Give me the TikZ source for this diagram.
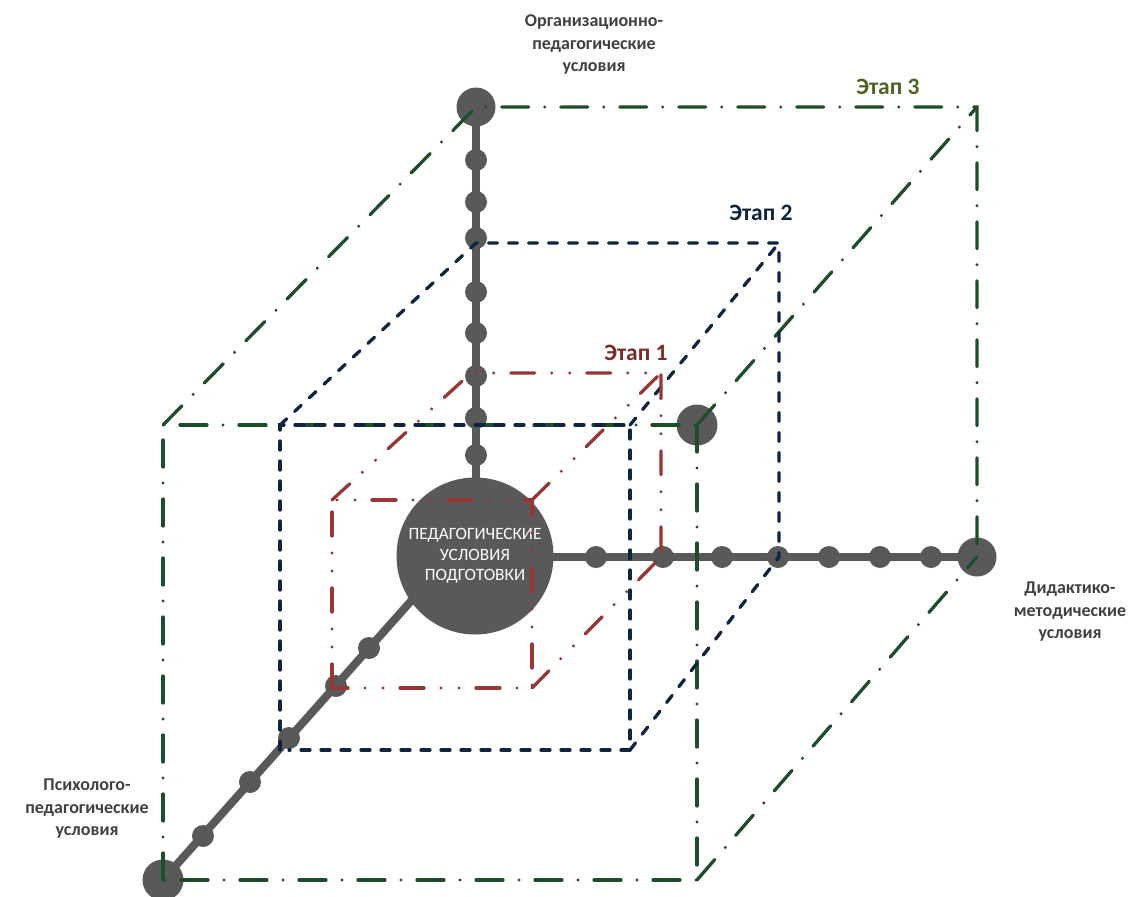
\documentclass[tikz,border=0pt]{standalone}
\usepackage{fontspec}
\setmainfont{Carlito}
\definecolor{axgray}{HTML}{595959}
\definecolor{lblgray}{HTML}{404040}
\definecolor{stgreen}{HTML}{1E4D2B}
\definecolor{stgreentxt}{HTML}{4F6228}
\definecolor{stblue}{HTML}{0F243E}
\definecolor{stred}{HTML}{953735}
\definecolor{stredtxt}{HTML}{772C2A}
\begin{document}
\begin{tikzpicture}[x=1pt,y=-1pt,
  axis/.style={draw=axgray,line width=8pt},
  bigdot/.style={circle,fill=axgray,minimum size=39pt,inner sep=0pt},
  smalldot/.style={circle,fill=axgray,minimum size=22pt,inner sep=0pt},
  hub/.style={circle,fill=axgray,minimum size=157pt,inner sep=0pt,text=white,align=center,font=\fontsize{17.3}{20.5}\selectfont},
  lbl/.style={align=center,text=lblgray,font=\fontsize{18}{22.5}\selectfont\bfseries},
  stage/.style={font=\fontsize{23.5}{26}\selectfont\bfseries},
  greenline/.style={draw=stgreen,line width=3.3pt,line cap=round,dash pattern=on 27pt off 16pt on 0pt off 16pt},
  blueline/.style={draw=stblue,line width=3.3pt,line cap=round,dash pattern=on 9pt off 11pt},
  redline/.style={draw=stred,line width=3.3pt,line cap=round,dash pattern=on 24pt off 17pt on 0pt off 18pt on 0pt off 17pt}
]
\useasboundingbox (0,0) rectangle (1136,897);

% axes endpoints
\node[bigdot] (T) at (476,107) {};
\node[bigdot] (R) at (977,557) {};
\node[bigdot,minimum size=41pt] (L) at (163,880) {};
\node[bigdot,minimum size=41pt] (F) at (697,425) {};
\coordinate (Caim) at (451,556);

% axis lines
\draw[axis] (T.center) -- (476,556);
\draw[axis] (476,557) -- (R.center);
\draw[axis] (L.center) -- (Caim);

% vertical small dots
\foreach \y [count=\i] in {160,202,238,292,333,376,418,455}
  \node[smalldot] (v\i) at (476,\y) {};
% horizontal small dots
\foreach \x [count=\i] in {596,663,722,778,829,880,931}
  \node[smalldot] (h\i) at (\x,557) {};
% diagonal small dots
\foreach \x/\y [count=\i] in {369/648,336/686,289/738,250/782,203/836}
  \node[smalldot] (d\i) at (\x,\y) {};

% hub
\node[hub] (C) at (475,556) {ПЕДАГОГИЧЕСКИЕ\\УСЛОВИЯ\\ПОДГОТОВКИ};

% green cube corners
\coordinate (g1) at (163,425);
\coordinate (g2) at (697,425);
\coordinate (g3) at (697,880);
\coordinate (g4) at (163,880);
\coordinate (g5) at (476,107);
\coordinate (g6) at (977,107);
\coordinate (g7) at (977,557);
% blue cube corners
\coordinate (b1) at (280,425);
\coordinate (b2) at (630,425);
\coordinate (b3) at (630,750);
\coordinate (b4) at (289,750);
\coordinate (b5) at (476,243);
\coordinate (b6) at (779,243);
\coordinate (b7) at (779,557);
\coordinate (b4a) at (280,750);
% red cube corners
\coordinate (r1) at (332,500);
\coordinate (r2) at (532,500);
\coordinate (r3) at (532,688);
\coordinate (r4) at (332,688);
\coordinate (r5) at (471,373);
\coordinate (r6) at (661,373);
\coordinate (r7) at (661,557);

% green cube
\draw[greenline] (g4) -- (g1) -- (g2);
\draw[greenline] (g2) -- (g3) -- (g4);
\draw[greenline] (g1) -- (g5) -- (g6) -- (g7);
\draw[greenline] (g2) -- (g6);
\draw[greenline] (g3) -- (g7);

% blue cube
\draw[blueline] (b4a) -- (b1) -- (b2) -- (b3) -- (b4);
\draw[blueline] (b1) -- (b5) -- (b6) -- (b7);
\draw[blueline] (b2) -- (b6);
\draw[blueline] (b3) -- (b7);

% red cube
\draw[redline] (r4) -- (r1) -- (r2) -- (r3) -- (r4);
\draw[redline] (r1) -- (r5) -- (r6) -- (r7);
\draw[redline] (r2) -- (r6);
\draw[redline] (r3) -- (r7);

% labels
\node[lbl] (tOrg) at (594,45) {Организационно-\\педагогические\\условия};
\node[lbl] (tDid) at (1070,612) {Дидактико-\\методические\\условия};
\node[lbl] (tPsy) at (87,809) {Психолого-\\педагогические\\условия};
\node[stage,text=stgreentxt] (s3) at (888,87) {Этап 3};
\node[stage,text=stblue] (s2) at (761,213) {Этап 2};
\node[stage,text=stredtxt] (s1) at (636,353) {Этап 1};
\end{tikzpicture}
\end{document}
